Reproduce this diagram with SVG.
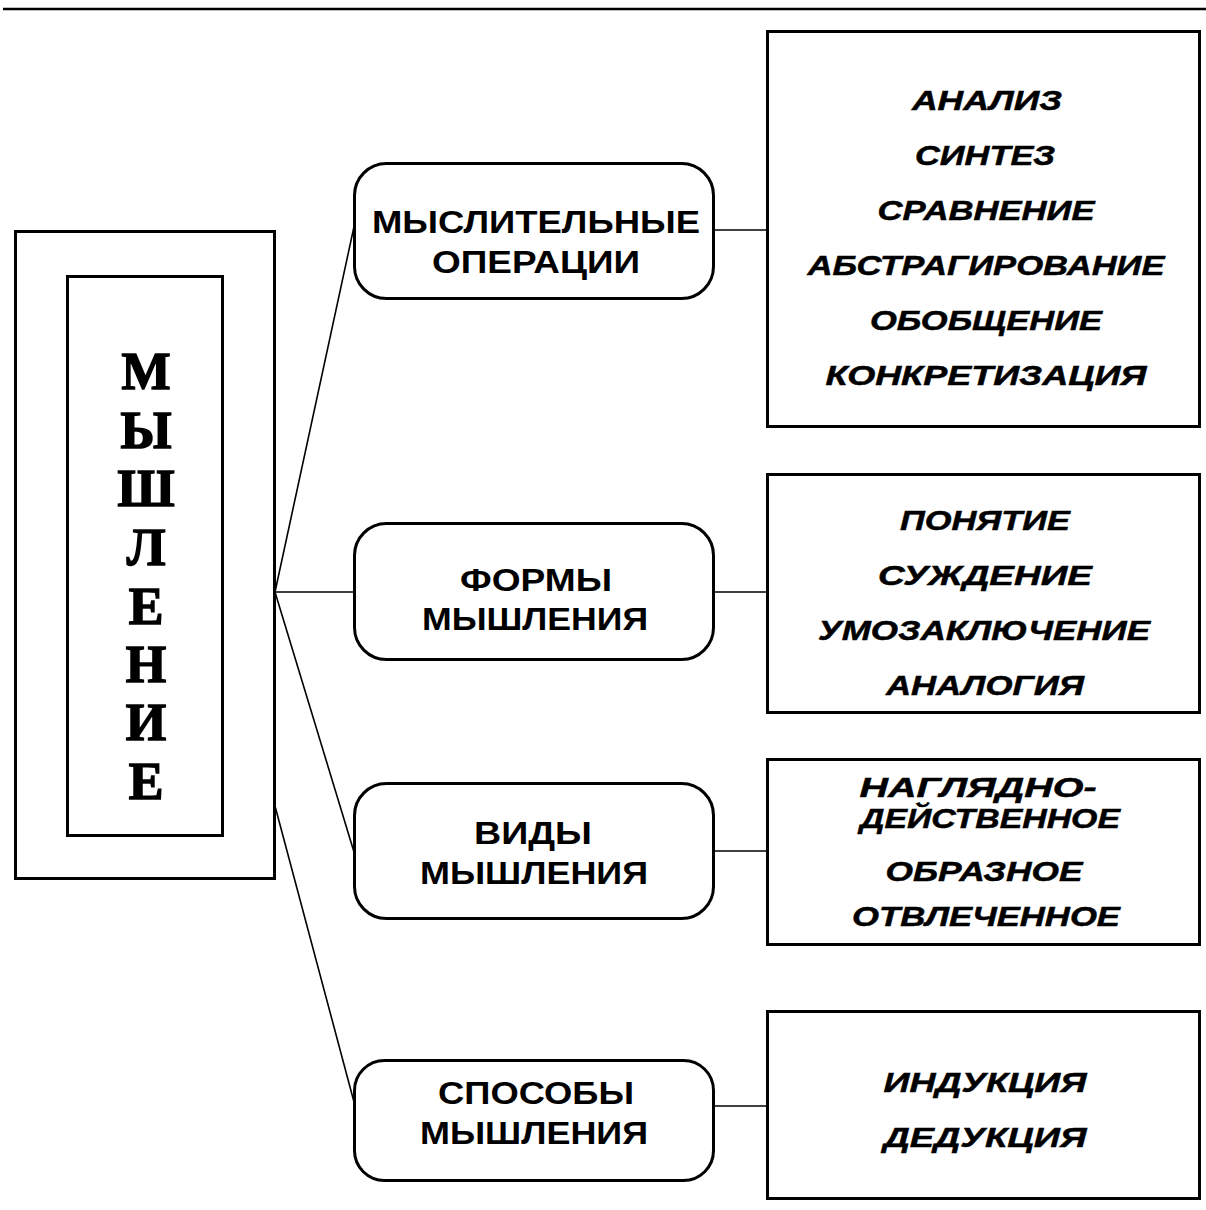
<svg xmlns="http://www.w3.org/2000/svg" width="1206" height="1210" viewBox="0 0 1206 1210">
<style>
.box{fill:#fff;stroke:#000;stroke-width:3}
.rbox{fill:#fff;stroke:#000;stroke-width:3}
.con{stroke:#000;stroke-width:1.6;fill:none}
.big{font-family:"Liberation Serif","Times New Roman",serif;font-weight:bold;font-size:52px;text-anchor:middle;fill:#000;stroke:#000;stroke-width:1.5}
.lbl{font-family:"Liberation Sans",Arial,sans-serif;font-weight:bold;font-size:32px;text-anchor:middle;fill:#000}
.itm{font-family:"Liberation Sans",Arial,sans-serif;font-weight:bold;font-style:italic;font-size:28px;text-anchor:middle;fill:#000;stroke:#000;stroke-width:0.5}
</style>
<rect width="1206" height="1210" fill="#fff"/>
<line x1="3" y1="9" x2="1206" y2="9" stroke="#000" stroke-width="2.5"/>
<g id="connectors">
<line class="con" x1="275" y1="592" x2="355" y2="222"/>
<line class="con" x1="275" y1="592" x2="355" y2="592"/>
<line class="con" x1="275" y1="592" x2="354" y2="852"/>
<line class="con" x1="275" y1="806" x2="354" y2="1102"/>
<line class="con" x1="714" y1="230" x2="767" y2="230"/>
<line class="con" x1="714" y1="592" x2="767" y2="592"/>
<line class="con" x1="714" y1="851" x2="767" y2="851"/>
<line class="con" x1="714" y1="1106" x2="767" y2="1106"/>
</g>
<g id="root">
<rect class="box" x="15.5" y="231.5" width="259" height="647"/>
<rect class="box" x="67.5" y="276.5" width="155" height="559"/>
<text class="big" x="146" y="389">М</text>
<text class="big" x="146" y="448">Ы</text>
<text class="big" x="146" y="506">Ш</text>
<text class="big" x="146" y="565">Л</text>
<text class="big" x="146" y="624">Е</text>
<text class="big" x="146" y="682">Н</text>
<text class="big" x="146" y="740">И</text>
<text class="big" x="146" y="799">Е</text>
</g>
<g id="n-operations">
<rect class="rbox" x="354.5" y="163.5" width="359" height="135" rx="32"/>
<text class="lbl" x="536" y="233" textLength="328" lengthAdjust="spacingAndGlyphs">МЫСЛИТЕЛЬНЫЕ</text>
<text class="lbl" x="536" y="273" textLength="208" lengthAdjust="spacingAndGlyphs">ОПЕРАЦИИ</text>
</g>
<g id="n-forms">
<rect class="rbox" x="354.5" y="523.5" width="359" height="136" rx="32"/>
<text class="lbl" x="536" y="591" textLength="152" lengthAdjust="spacingAndGlyphs">ФОРМЫ</text>
<text class="lbl" x="535" y="630" textLength="226" lengthAdjust="spacingAndGlyphs">МЫШЛЕНИЯ</text>
</g>
<g id="n-kinds">
<rect class="rbox" x="354.5" y="783.5" width="359" height="135" rx="32"/>
<text class="lbl" x="533" y="844" textLength="118" lengthAdjust="spacingAndGlyphs">ВИДЫ</text>
<text class="lbl" x="534" y="884" textLength="228" lengthAdjust="spacingAndGlyphs">МЫШЛЕНИЯ</text>
</g>
<g id="n-methods">
<rect class="rbox" x="354.5" y="1060.5" width="359" height="120" rx="30"/>
<text class="lbl" x="536" y="1104" textLength="196" lengthAdjust="spacingAndGlyphs">СПОСОБЫ</text>
<text class="lbl" x="534" y="1144" textLength="228" lengthAdjust="spacingAndGlyphs">МЫШЛЕНИЯ</text>
</g>
<g id="list-operations">
<rect class="box" x="767.5" y="31.5" width="432" height="395"/>
<text class="itm" x="987" y="110" textLength="150" lengthAdjust="spacingAndGlyphs">АНАЛИЗ</text>
<text class="itm" x="985" y="165" textLength="140" lengthAdjust="spacingAndGlyphs">СИНТЕЗ</text>
<text class="itm" x="986" y="220" textLength="217" lengthAdjust="spacingAndGlyphs">СРАВНЕНИЕ</text>
<text class="itm" x="986" y="275" textLength="357" lengthAdjust="spacingAndGlyphs">АБСТРАГИРОВАНИЕ</text>
<text class="itm" x="986" y="330" textLength="232" lengthAdjust="spacingAndGlyphs">ОБОБЩЕНИЕ</text>
<text class="itm" x="986" y="385" textLength="321" lengthAdjust="spacingAndGlyphs">КОНКРЕТИЗАЦИЯ</text>
</g>
<g id="list-forms">
<rect class="box" x="767.5" y="474.5" width="432" height="238"/>
<text class="itm" x="985" y="530" textLength="170" lengthAdjust="spacingAndGlyphs">ПОНЯТИЕ</text>
<text class="itm" x="985" y="585" textLength="214" lengthAdjust="spacingAndGlyphs">СУЖДЕНИЕ</text>
<text class="itm" x="984" y="640" textLength="332" lengthAdjust="spacingAndGlyphs">УМОЗАКЛЮЧЕНИЕ</text>
<text class="itm" x="985" y="695" textLength="198" lengthAdjust="spacingAndGlyphs">АНАЛОГИЯ</text>
</g>
<g id="list-kinds">
<rect class="box" x="767.5" y="759.5" width="432" height="185"/>
<text class="itm" x="978" y="797" textLength="237" lengthAdjust="spacingAndGlyphs">НАГЛЯДНО-</text>
<text class="itm" x="990" y="828" textLength="260" lengthAdjust="spacingAndGlyphs">ДЕЙСТВЕННОЕ</text>
<text class="itm" x="984" y="881" textLength="197" lengthAdjust="spacingAndGlyphs">ОБРАЗНОЕ</text>
<text class="itm" x="986" y="926" textLength="268" lengthAdjust="spacingAndGlyphs">ОТВЛЕЧЕННОЕ</text>
</g>
<g id="list-methods">
<rect class="box" x="767.5" y="1011.5" width="432" height="187"/>
<text class="itm" x="985" y="1092" textLength="203" lengthAdjust="spacingAndGlyphs">ИНДУКЦИЯ</text>
<text class="itm" x="985" y="1147" textLength="203" lengthAdjust="spacingAndGlyphs">ДЕДУКЦИЯ</text>
</g>
</svg>
